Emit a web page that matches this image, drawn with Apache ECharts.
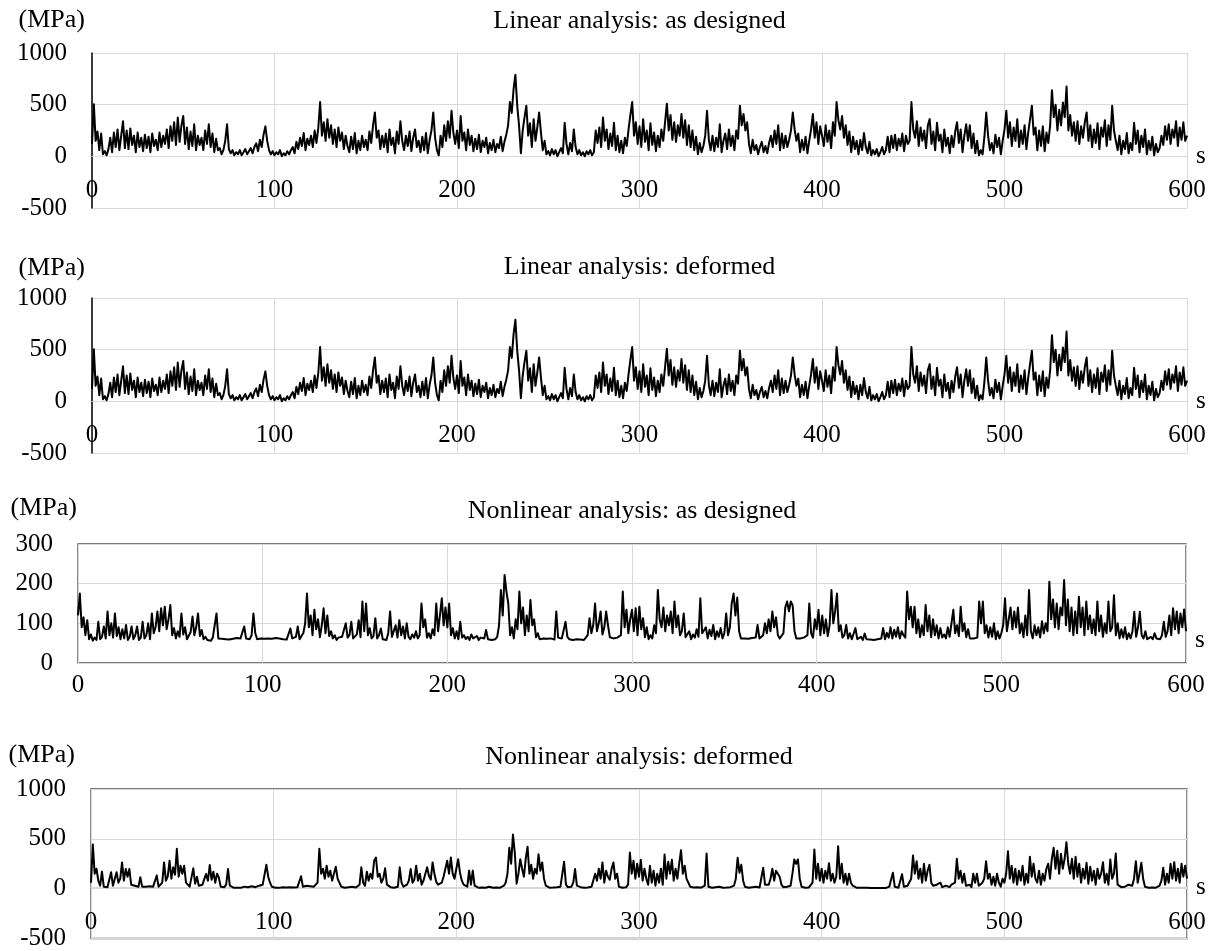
<!DOCTYPE html>
<html>
<head>
<meta charset="utf-8">
<script src="https://cdn.jsdelivr.net/npm/echarts@6.0.0/dist/echarts.min.js"></script>
<style>
html,body{margin:0;padding:0;background:#fff;}
#chart{width:1216px;height:951px;}
</style>
</head>
<body>
<div id="chart"></div>
<script>
// ---- data, one value per second, t = 0..600 s ----
const timeStep = 1; // s
const panelTitles = [
  'Linear analysis: as designed',
  'Linear analysis: deformed',
  'Nonlinear analysis: as designed',
  'Nonlinear analysis: deformed'
];
const unitLabel = '(MPa)';
const timeUnit = 's';
const xTickMax = 600, xTickStep = 100;
const yRanges = [[-500, 1000, 500], [-500, 1000, 500], [0, 300, 100], [-500, 1000, 500]];

const linearAsDesigned = [
120,505,150,240,60,220,20,50,10,70,
180,40,230,90,260,60,200,340,80,250,
70,270,110,200,40,230,90,180,50,210,
80,190,40,220,100,160,60,230,90,200,
120,260,80,290,150,330,110,375,140,300,
390,120,280,70,240,100,310,60,200,110,
180,60,250,120,310,90,220,40,170,60,
80,20,60,150,310,70,30,60,10,40,
20,60,10,40,70,20,50,80,30,90,
125,50,160,90,210,290,150,60,20,50,
10,40,20,60,0,30,10,50,20,60,
90,30,140,70,180,100,225,60,170,110,
200,90,250,130,275,525,200,330,150,360,
180,300,120,260,90,280,150,230,70,200,
100,40,190,70,225,30,150,60,200,90,
160,60,240,130,300,425,180,250,70,200,
90,220,40,260,110,180,30,240,120,340,
150,60,200,100,240,50,180,260,90,150,
40,190,60,225,30,160,250,425,180,60,
10,200,90,300,150,340,180,440,230,120,
250,80,390,150,230,60,260,110,200,50,
170,70,210,40,150,90,180,30,130,60,
160,40,120,80,190,50,140,210,300,525,
420,650,790,490,300,30,250,380,490,200,
320,90,360,150,280,425,230,60,150,20,
50,10,70,20,60,0,40,80,30,325,
120,20,130,50,260,90,20,60,10,40,
0,50,20,60,10,40,250,130,280,90,
375,150,260,70,220,100,325,60,200,40,
150,30,180,100,260,400,525,200,330,120,
290,90,360,140,250,60,320,110,230,50,
200,90,260,150,330,510,250,400,160,330,
140,300,200,410,180,350,110,300,90,250,
60,190,20,130,40,100,200,440,160,60,
200,50,180,90,310,40,150,220,70,260,
100,200,60,250,170,490,300,410,250,330,
120,30,160,60,110,20,90,140,40,100,
30,130,200,90,250,120,300,60,220,80,
200,90,160,250,425,260,150,220,40,160,
60,190,30,150,260,410,180,330,120,290,
200,100,300,140,250,80,330,200,525,350,
260,390,180,300,110,240,40,190,70,150,
20,160,60,225,90,30,140,10,60,20,
70,0,40,90,20,60,190,40,200,80,
210,60,170,100,220,50,200,120,150,525,
260,180,340,100,280,150,250,80,300,360,
120,240,60,325,150,210,40,260,100,180,
30,200,90,240,330,130,260,40,200,310,
150,300,80,220,30,150,10,60,20,190,
425,200,60,130,30,210,90,180,20,150,
260,440,180,330,100,280,150,360,90,250,
120,300,70,230,360,490,210,280,60,250,
100,290,50,230,130,300,640,380,500,250,
450,300,520,380,675,250,400,200,330,150,
340,120,290,180,330,425,150,300,90,260,
130,320,70,280,190,350,100,300,160,490,
250,150,60,200,20,150,70,225,30,130,
60,325,120,250,40,200,90,260,20,150,
60,190,10,120,40,80,200,110,290,160,
310,120,260,180,340,100,280,160,330,150,
200
];

// the deformed linear trace is visually indistinguishable from the as-designed one
const linearDeformed = linearAsDesigned;

const nonlinearAsDesigned = [
120,175,90,115,70,108,60,72,56,64,
58,104,60,66,92,62,130,70,100,64,
125,68,90,60,85,62,96,58,66,92,
60,70,92,58,64,104,62,70,100,60,
125,75,90,130,80,138,95,142,85,110,
146,70,88,62,80,66,125,72,90,60,
64,78,117,70,90,125,68,83,60,66,
58,62,56,64,60,125,62,58,61,57,
60,63,59,62,61,60,63,59,62,60,
92,62,66,60,70,125,75,60,58,62,
59,61,60,62,58,61,59,63,60,62,
58,60,62,59,61,87,62,60,66,92,
60,68,75,100,175,90,120,70,134,85,
110,65,95,138,75,120,68,80,62,70,
58,64,60,66,62,100,64,70,104,62,
66,72,108,65,155,80,150,70,88,62,
68,113,62,70,87,60,64,58,75,130,
66,62,95,64,108,70,92,62,100,66,
60,72,64,80,62,70,150,90,110,64,
75,62,85,70,150,80,120,163,95,140,
90,150,70,88,62,80,60,104,64,70,
60,66,58,72,62,60,68,58,64,60,
62,83,60,64,58,62,60,66,95,184,
120,222,180,150,70,90,62,110,85,180,
100,140,70,120,80,159,95,110,65,75,
60,58,62,59,61,58,62,60,59,130,
64,60,62,58,104,66,60,62,58,61,
60,62,59,61,58,62,70,113,75,95,
150,80,100,130,72,90,130,95,65,60,
62,58,64,60,70,180,90,134,75,110,
134,80,138,70,142,85,113,65,90,60,
70,62,95,75,184,110,90,140,80,120,
95,130,75,155,90,120,70,80,125,65,
62,80,60,72,64,85,66,163,75,70,
90,62,84,68,96,60,80,66,88,62,
75,125,70,90,150,175,120,165,80,62,
60,62,58,61,60,63,59,64,96,62,
66,70,100,75,110,80,130,90,115,70,
62,66,75,140,155,130,155,145,80,62,
60,62,58,64,61,70,150,75,64,110,
85,134,70,120,75,110,68,95,184,100,
130,175,80,95,64,70,96,62,75,60,
64,88,60,62,66,58,74,60,62,59,
61,58,62,60,59,62,88,60,76,64,
90,62,84,66,90,62,80,70,64,180,
110,142,90,142,75,110,65,95,70,146,
80,120,65,110,70,95,62,88,64,72,
62,90,66,100,134,75,95,68,142,80,
100,65,85,62,60,62,58,64,155,100,
155,75,95,64,90,66,100,60,80,62,
75,95,163,80,110,140,85,130,90,140,
75,100,65,120,70,184,80,62,95,70,
90,64,105,75,100,80,205,110,160,90,
150,85,140,120,209,95,160,80,140,70,
130,75,167,90,140,70,155,85,120,75,
110,70,155,80,120,66,100,75,155,80,
90,171,70,100,62,85,64,90,60,75,
62,80,129,66,90,129,70,62,80,60,
62,66,60,75,62,64,60,70,104,66,
80,120,70,138,85,130,75,125,90,135,
80
];

const nonlinearDeformed = [
60,444,150,200,80,30,171,20,10,15,
20,165,30,40,165,60,100,263,80,197,
120,197,40,20,30,15,20,115,20,15,
20,10,25,15,20,30,132,20,30,60,
263,80,120,280,100,214,140,401,120,230,
150,230,60,40,20,30,204,50,120,30,
20,40,60,148,80,237,90,170,60,150,
110,20,30,15,40,197,30,15,10,20,
10,15,8,12,20,10,15,10,25,12,
15,10,30,15,40,20,240,120,60,20,
15,10,12,8,10,15,10,12,8,14,
10,12,20,15,10,125,20,15,30,20,
25,40,20,30,60,401,150,200,100,230,
120,180,80,150,220,100,60,20,15,10,
12,15,10,20,15,12,20,40,214,60,
30,170,80,150,100,280,312,120,150,60,
100,204,40,20,15,20,10,15,20,214,
60,20,30,40,80,197,60,90,230,80,
150,40,80,100,214,130,90,263,150,70,
40,20,60,120,200,280,150,312,150,100,
200,296,160,80,40,30,20,181,40,181,
30,15,10,20,12,15,10,14,20,12,
10,15,12,18,10,20,30,60,150,411,
250,543,362,50,150,296,200,120,300,421,
150,240,100,200,150,345,180,263,100,30,
15,10,20,12,10,15,12,20,10,270,
40,15,10,20,60,197,30,10,15,12,
10,15,12,10,20,15,150,80,200,100,
263,60,180,120,90,200,263,100,150,20,
15,10,20,15,40,362,150,280,100,250,
120,290,80,200,100,40,230,60,180,30,
150,60,200,40,343,100,270,150,290,80,
200,100,250,386,150,230,100,60,20,15,
12,10,15,20,10,15,30,353,20,15,
10,12,15,10,20,12,10,15,12,20,
15,10,30,100,310,160,240,80,20,15,
10,12,15,10,20,15,12,30,210,40,
20,40,100,200,80,180,200,120,40,15,
10,20,15,30,150,293,250,293,100,20,
15,10,20,12,15,60,393,100,250,80,
200,60,180,100,256,80,150,60,120,426,
100,250,60,150,40,150,60,30,15,10,
8,10,6,9,7,10,8,6,9,7,
8,6,10,7,9,6,15,20,30,160,
20,15,10,30,145,20,15,30,40,100,
333,150,276,100,200,60,250,80,180,240,
60,30,15,40,20,60,15,10,30,20,
15,40,20,60,300,100,180,60,150,30,
20,40,15,150,60,150,30,20,60,100,
276,100,150,40,120,30,150,60,20,100,
60,150,376,100,230,60,200,40,180,80,
230,40,150,60,320,120,250,100,60,180,
40,150,80,200,250,100,300,410,200,380,
150,350,200,300,466,250,150,300,100,320,
120,250,60,200,100,260,50,220,80,180,
40,200,100,150,266,60,150,40,293,100,
150,353,40,20,15,30,20,15,40,20,
30,100,276,60,150,260,100,20,15,10,
15,12,20,10,15,30,80,210,40,150,
60,250,100,266,80,200,60,250,120,230,
100
];

const seriesValues = [linearAsDesigned, linearDeformed, nonlinearAsDesigned, nonlinearDeformed];

// ---- layout / style ----
const FONT = 'Liberation Serif';
const GRIDC = '#d9d9d9';
const TICK_FS = 25;
const layout = [
  {grid:{left:92, top:53, width:1095, height:155}, framed:false, titleTop:8, nameGap:33, nameRight:7, xMargin:22, sRaise:0},
  {grid:{left:92, top:298, width:1095, height:155}, framed:false, titleTop:254, nameGap:30, nameRight:7, xMargin:22, sRaise:0},
  {grid:{left:78, top:544, width:1108, height:119}, framed:true, titleTop:498, nameGap:36, nameRight:1, xMargin:10, sRaise:23},
  {grid:{left:91, top:789, width:1096, height:153}, framed:true, titleTop:744, nameGap:34, nameRight:16, xMargin:22, sRaise:0}
];

const grids = [], xAxes = [], yAxes = [], series = [], titles = [], extraX = [];
const fmt = v => String(v);
layout.forEach((p, i) => {
  const g = Object.assign({}, p.grid);
  if (p.framed) { g.show = true; g.borderColor = '#4d4d4d'; g.borderWidth = 1.3; g.backgroundColor = 'transparent'; }
  grids.push(g);
  titles.push({
    text: panelTitles[i], left: p.grid.left + p.grid.width / 2, top: p.titleTop,
    textAlign: 'center', padding: 0,
    textStyle: {fontFamily: FONT, fontSize: 26, fontWeight: 'normal', color: '#000'}
  });
  const r = yRanges[i];
  // put the time axis on the zero stress level
  const zeroOffset = -p.grid.height * (0 - r[0]) / (r[1] - r[0]);
  const hasName = p.sRaise === 0;
  xAxes.push({
    gridIndex: i, type: 'value', min: 0, max: xTickMax, interval: xTickStep,
    position: 'bottom', offset: zeroOffset,
    name: hasName ? timeUnit : '', nameLocation: 'end', nameGap: 9,
    nameTextStyle: {fontFamily: FONT, fontSize: TICK_FS, color: '#000'},
    axisLine: {show: true, onZero: false, lineStyle: {color: GRIDC, width: 1}},
    axisTick: {show: false},
    axisLabel: {fontFamily: FONT, fontSize: TICK_FS, color: '#000', margin: p.xMargin, formatter: fmt},
    splitLine: {show: true, lineStyle: {color: GRIDC, width: 1}}
  });
  if (!hasName) {
    extraX.push({
      gridIndex: i, type: 'value', min: 0, max: xTickMax, interval: xTickStep,
      position: 'bottom', offset: -p.sRaise,
      name: timeUnit, nameLocation: 'end', nameGap: 9,
      nameTextStyle: {fontFamily: FONT, fontSize: TICK_FS, color: '#000'},
      axisLine: {show: false, onZero: false}, axisTick: {show: false},
      axisLabel: {show: false}, splitLine: {show: false}
    });
  }
  yAxes.push({
    gridIndex: i, type: 'value', min: r[0], max: r[1], interval: r[2],
    name: unitLabel, nameLocation: 'end', nameGap: p.nameGap,
    nameTextStyle: {fontFamily: FONT, fontSize: 26, color: '#000', align: 'right', verticalAlign: 'middle', padding: [0, p.nameRight, 0, 0]},
    axisLine: {show: !p.framed, onZero: false, lineStyle: {color: '#000', width: 1.5}},
    axisTick: {show: false},
    axisLabel: {fontFamily: FONT, fontSize: TICK_FS, color: '#000', margin: 25, formatter: fmt},
    splitLine: {show: true, lineStyle: {color: GRIDC, width: 1}}
  });
  series.push({
    type: 'line', xAxisIndex: i, yAxisIndex: i,
    data: seriesValues[i].map((v, k) => [k * timeStep, v]),
    showSymbol: false, symbol: 'none', sampling: null, smooth: false,
    lineStyle: {color: '#000', width: 2, join: 'round'}, z: 3, silent: true
  });
});

const chart = echarts.init(document.getElementById('chart'), null, {renderer: 'canvas'});
chart.setOption({
  animation: false,
  backgroundColor: '#fff',
  title: titles,
  grid: grids,
  xAxis: xAxes.concat(extraX),
  yAxis: yAxes,
  series: series
});
</script>
</body>
</html>
